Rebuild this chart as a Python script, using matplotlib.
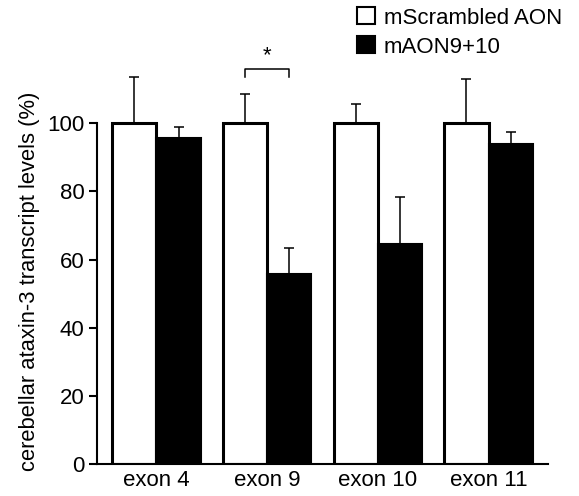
import numpy as np
import matplotlib
matplotlib.use("Agg")
import matplotlib.pyplot as plt
from matplotlib.patches import Patch

plt.rcParams['font.family'] = ['Liberation Sans', 'DejaVu Sans']

### data ################################################################################

exons = ['exon 4', 'exon 9', 'exon 10', 'exon 11']
scrambled = [100, 100, 100, 100]
scrambled_err = [13.5, 8.5, 5.6, 12.9]
aon = [95.6, 55.7, 64.5, 93.8]
aon_err = [3.2, 7.6, 13.8, 3.6]
star_pair = (1, 116, 113.5)   # group index, bracket top, bracket foot

### figure ##############################################################################

fig = plt.figure(figsize=(5.79, 4.96), dpi=100)
ax = fig.add_axes([97 / 579, 1 - 464 / 496, (548 - 97) / 579, (464 - 38) / 496])

x = np.arange(len(exons))
w = 0.4

ax.bar(x - w / 2, scrambled, w, color='white', edgecolor='black', linewidth=2.2, zorder=2)
ax.bar(x + w / 2, aon, w, color='black', edgecolor='black', linewidth=1.5, zorder=2)

ax.errorbar(x - w / 2, scrambled, yerr=[np.zeros(4), scrambled_err], fmt='none',
            ecolor='black', elinewidth=1.1, capsize=3.5, capthick=1.1, zorder=1)
ax.errorbar(x + w / 2, aon, yerr=[np.zeros(4), aon_err], fmt='none',
            ecolor='black', elinewidth=1.1, capsize=3.5, capthick=1.1, zorder=3)

# significance bracket
g, top, foot = star_pair
ax.plot([g - w / 2, g - w / 2, g + w / 2, g + w / 2], [foot, top, top, foot],
        color='black', lw=1.1, clip_on=False)
ax.text(g, top + 0.6, '*', ha='center', va='bottom', fontsize=16)

ax.set_xlim(-0.536, 3.536)
ax.set_ylim(0, 125)
ax.set_xticks(x)
ax.set_xticklabels(exons)
ax.set_yticks([0, 20, 40, 60, 80, 100])
ax.tick_params(axis='x', length=0, labelsize=16, pad=4)
ax.tick_params(axis='y', length=6, width=1.5, labelsize=16, pad=3)
ax.set_ylabel('cerebellar ataxin-3 transcript levels (%)', fontsize=15.8)
ax.yaxis.set_label_coords(-0.127, 0.43)

for s in ['top', 'right']:
    ax.spines[s].set_visible(False)
ax.spines['left'].set_bounds(0, 100)
ax.spines['left'].set_linewidth(1.5)
ax.spines['bottom'].set_linewidth(1.5)

handles = [Patch(facecolor='white', edgecolor='black', linewidth=1.5, label='mScrambled AON'),
           Patch(facecolor='black', edgecolor='black', linewidth=1.5, label='mAON9+10')]
fig.legend(handles=handles, loc='upper left', bbox_to_anchor=(344 / 579, 1.012),
           frameon=False, fontsize=16, handlelength=0.8, handleheight=0.8,
           handletextpad=0.4, labelspacing=0.35, borderaxespad=0.2)

fig.savefig('out.png', dpi=100)
